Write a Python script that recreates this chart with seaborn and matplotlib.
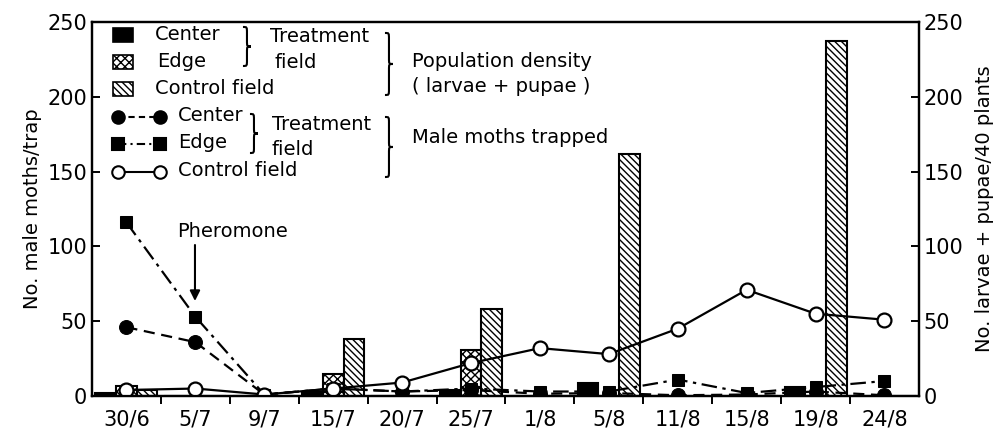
import numpy as np
import pandas as pd
import seaborn as sns
import matplotlib.pyplot as plt
from matplotlib.path import Path
from matplotlib.patches import PathPatch, Rectangle
from matplotlib.lines import Line2D

# %%
# Data
dates = ["30/6", "5/7", "9/7", "15/7", "20/7", "25/7",
         "1/8", "5/8", "11/8", "15/8", "19/8", "24/8"]

# male moths per trap (left axis)
moth_center = [46, 36, 1, 5, 3, 4, 1.5, 2, 0.5, 1, 3, 0.5]
moth_edge = [116, 53, 1, 5, 3, 5, 3, 3, 11, 2, 6, 10]
moth_control = [4, 5, 1, 5, 9, 22, 32, 28, 45, 71, 55, 51]

# larvae + pupae per 40 plants (right axis)
pop_center = [2, 0, 0, 3, 0, 4, 0, 9, 0, 0, 6, 0]
pop_edge = [7, 0, 0, 15, 0, 31, 0, 0, 0, 0, 0, 0]
pop_control = [4, 0, 0, 38, 0, 58, 0, 162, 0, 0, 237, 0]

fields = ["Center", "Edge", "Control field"]

df_pop = pd.DataFrame({
    "date": dates * 3,
    "field": np.repeat(fields, len(dates)),
    "value": pop_center + pop_edge + pop_control,
})

# %%
sns.set_style("ticks")
plt.rcParams["font.family"] = ["DejaVu Sans"]
plt.rcParams["hatch.linewidth"] = 1.0
for k in ["text.color", "axes.labelcolor", "xtick.color", "ytick.color",
          "axes.edgecolor"]:
    plt.rcParams[k] = "black"

fig = plt.figure(figsize=(10.03, 4.37), dpi=100)
ax = fig.add_axes([0.0917, 0.0938, 0.8245, 0.8559])
ax2 = ax.twinx()

# bars (population density) on the right axis
sns.barplot(data=df_pop, x="date", y="value", hue="field", order=dates,
            hue_order=fields, palette=["black", "white", "white"],
            saturation=1, width=0.9, edgecolor="black", linewidth=1.5,
            legend=False, ax=ax2)
hatches = [None, "xxxx", "\\\\\\\\\\"]
for cont, h in zip(ax2.containers, hatches):
    for p in cont:
        if h:
            p.set_hatch(h)

# lines (moths trapped) on the left axis
pos = np.arange(len(dates))
sns.lineplot(x=pos, y=moth_center, ax=ax, color="k", lw=1.6,
             linestyle=(0, (5, 3)), marker="o", markersize=10,
             markerfacecolor="k", markeredgecolor="k")
sns.lineplot(x=pos, y=moth_edge, ax=ax, color="k", lw=1.6,
             linestyle=(0, (7, 2.5, 1.5, 2.5)), marker="s", markersize=9,
             markerfacecolor="k", markeredgecolor="k")
sns.lineplot(x=pos, y=moth_control, ax=ax, color="k", lw=1.6,
             linestyle="-", marker="o", markersize=10,
             markerfacecolor="white", markeredgecolor="k", markeredgewidth=1.6)

ax.set_zorder(ax2.get_zorder() + 1)
ax.patch.set_visible(False)

for a in (ax, ax2):
    a.set_ylim(0, 250)
    a.set_xlim(-0.5, 11.5)
    a.set_yticks(range(0, 251, 50))
    for s in a.spines.values():
        s.set_linewidth(1.6)

ax.set_xticks(pos)
ax.set_xticklabels(dates)
ax.set_xticks(np.arange(0.5, 11, 1), minor=True)
ax.tick_params(axis="x", which="major", length=0, pad=10, labelsize=15)
ax.tick_params(axis="x", which="minor", length=6, width=1.4, direction="out")
ax.tick_params(axis="y", direction="in", length=6, width=1.4, labelsize=15)
ax2.tick_params(axis="y", direction="in", length=6, width=1.4, labelsize=15)
ax2.tick_params(axis="x", length=0)

ax.set_xlabel("")
ax2.set_xlabel("")
ax.set_ylabel("No. male moths/trap", fontsize=14, labelpad=4)
ax2.set_ylabel("No. larvae + pupae/40 plants", fontsize=14, labelpad=8)

# %%
# Hand-made legend, positioned in pixel terms of the reference


def px(x, y):
    return ((x - 92) / 827, (396 - y) / 374)


def brace(x, y0, y1, w=4, r=6):
    ym = (y0 + y1) / 2
    pts = [(x, y0), (x + w, y0), (x + w, y0), (x + w, y0 + r),
           (x + w, ym - r),
           (x + w, ym), (x + w, ym), (x + 2 * w, ym),
           (x + w, ym), (x + w, ym), (x + w, ym + r),
           (x + w, y1 - r),
           (x + w, y1), (x + w, y1), (x, y1)]
    codes = [Path.MOVETO, Path.CURVE4, Path.CURVE4, Path.CURVE4,
             Path.LINETO,
             Path.CURVE4, Path.CURVE4, Path.CURVE4,
             Path.CURVE4, Path.CURVE4, Path.CURVE4,
             Path.LINETO,
             Path.CURVE4, Path.CURVE4, Path.CURVE4]
    path = Path([px(*p) for p in pts], codes)
    ax.add_patch(PathPatch(path, transform=ax.transAxes, fill=False,
                           lw=1.5, color="k", clip_on=False))


fs = 14
kw = dict(transform=ax.transAxes, fontsize=fs, va="center", ha="left")

# population density part
rows_pop = [35, 62, 89]
for y, h, fc in zip(rows_pop, hatches, ["black", "white", "white"]):
    x0, y0 = px(113, y + 7)
    x1, y1 = px(133, y - 7)
    ax.add_patch(Rectangle((x0, y0), x1 - x0, y1 - y0, transform=ax.transAxes,
                           facecolor=fc, edgecolor="k", lw=1.2, hatch=h))
ax.text(*px(155, 35), "Center", **kw)
ax.text(*px(157, 62), "Edge", **kw)
ax.text(*px(155, 89), "Control field", **kw)
brace(243, 27, 66)
ax.text(*px(270, 37), "Treatment", **kw)
ax.text(*px(275, 63), "field", **kw)
brace(385, 33, 95)
ax.text(*px(412, 62), "Population density", **kw)
ax.text(*px(412, 87), "( larvae + pupae )", **kw)

# moths trapped part
rows_moth = [117, 144, 172]
styles = [dict(ls=(0, (3, 2)), marker="o", mfc="k", ms=9),
          dict(ls=(0, (4, 2, 1, 2)), marker="s", mfc="k", ms=8),
          dict(ls="-", marker="o", mfc="white", ms=9)]
for y, st in zip(rows_moth, styles):
    xa, ya = px(118, y)
    xb, _ = px(160, y)
    ax.add_line(Line2D([xa, xb], [ya, ya], transform=ax.transAxes, color="k",
                       lw=1.5, ls=st["ls"], marker=st["marker"],
                       mfc=st["mfc"], mec="k", ms=st["ms"], mew=1.5,
                       clip_on=False))
ax.text(*px(178, 116), "Center", **kw)
ax.text(*px(178, 143), "Edge", **kw)
ax.text(*px(178, 171), "Control field", **kw)
brace(250, 114, 153)
ax.text(*px(272, 125), "Treatment", **kw)
ax.text(*px(272, 150), "field", **kw)
brace(385, 117, 177)
ax.text(*px(412, 138), "Male moths trapped", **kw)

# pheromone arrow at 5/7
ax.text(*px(177, 232), "Pheromone", transform=ax.transAxes, fontsize=fs,
        ha="left", va="center")
ax.annotate("", xy=px(195, 301), xytext=px(195, 245),
            xycoords="axes fraction", textcoords="axes fraction",
            arrowprops=dict(arrowstyle="-|>", color="k", lw=1.5,
                            shrinkA=0, shrinkB=0, mutation_scale=15))

fig.savefig("out.png", dpi=100)
